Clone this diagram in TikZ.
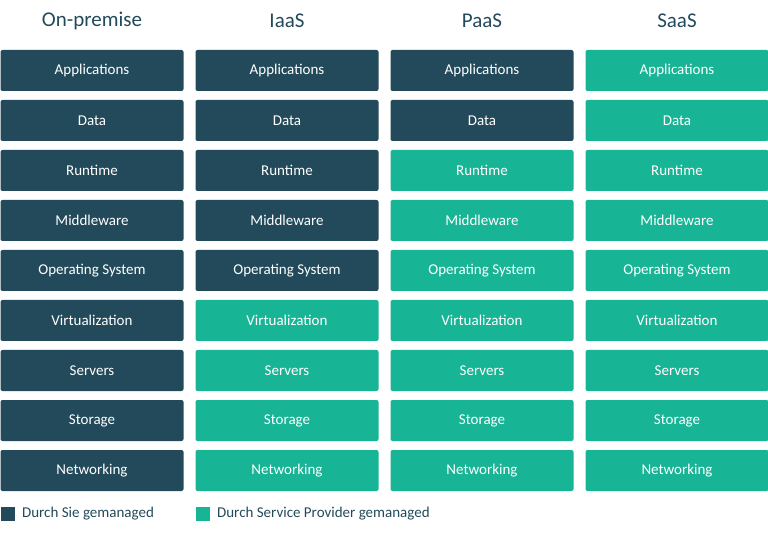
\documentclass[tikz,border=0pt]{standalone}
\usepackage{fontspec}
\setmainfont{Carlito}
\definecolor{sie}{HTML}{234A5A}
\definecolor{prov}{HTML}{17B495}
\begin{document}
\begin{tikzpicture}[x=1pt, y=-1pt, font=\fontsize{15}{18}\selectfont,
  layer/.style={rounded corners=2pt, minimum width=183pt, minimum height=41pt, inner sep=0pt, text=white},
  head/.style={font=\fontsize{21}{24}\selectfont, text=sie},
  legbox/.style={minimum size=14pt, inner sep=0pt}]
\useasboundingbox (0,0) rectangle (768,534);
\foreach \col/\name/\first [count=\c from 0] in {onprem/On-premise/9, iaas/IaaS/5, paas/PaaS/2, saas/SaaS/0}{
  \node[head] (\col-head) at (92+195*\c,21) {\name};
  \foreach \lay [count=\r from 0] in {Applications, Data, Runtime, Middleware, Operating System, Virtualization, Servers, Storage, Networking}{
    \ifnum\r<\first
      \node[layer, fill=sie] (\col-\r) at (92+195*\c,70.5+50*\r) {\lay};
    \else
      \node[layer, fill=prov] (\col-\r) at (92+195*\c,70.5+50*\r) {\lay};
    \fi
  }
}
% legend
\node[legbox, fill=sie] (leg-sie) at (8,514) {};
\node[anchor=west, text=sie] (leg-sie-text) at (leg-sie.east) {~Durch Sie gemanaged};
\node[legbox, fill=prov] (leg-prov) at (203,514) {};
\node[anchor=west, text=sie] (leg-prov-text) at (leg-prov.east) {~Durch Service Provider gemanaged};
\end{tikzpicture}
\end{document}
